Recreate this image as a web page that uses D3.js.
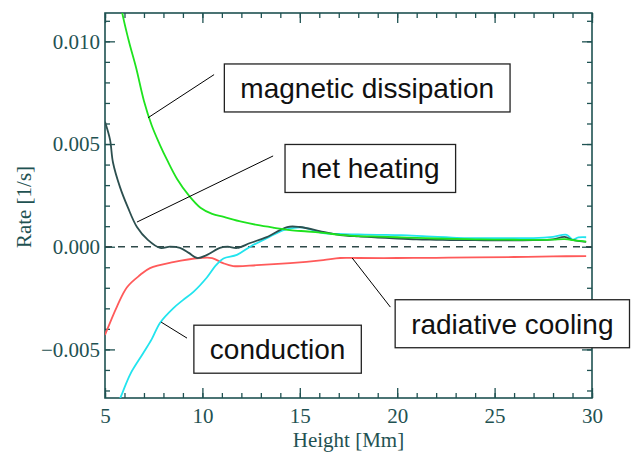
<!DOCTYPE html>
<html>
<head>
<meta charset="utf-8">
<script src="https://cdn.jsdelivr.net/npm/d3@7"></script>
<style>
	body { margin: 0; background: #fff; }
	svg { display: block; }
</style>
</head>
<body>
<div id="chart"></div>
<script>
// Values (height in Mm, rate in 1/s)
var magHeight = [5.0, 5.4, 5.8, 6.2, 6.6, 7.0, 7.4, 7.8, 8.2, 8.7, 9.3, 9.9, 10.5, 11.1, 12.0, 12.8, 13.7, 14.5, 15.4, 16.2, 17.1, 18, 19, 20, 21, 22, 23, 24, 25, 26, 27, 28, 28.6, 29.2, 29.7];
var magRate = [0.018, 0.0148, 0.0118, 0.0101, 0.0087, 0.0071, 0.0059, 0.0050, 0.0042, 0.0033, 0.0025, 0.0019, 0.0016, 0.00145, 0.00122, 0.00106, 0.00092, 0.00081, 0.00074, 0.00067, 0.00058, 0.00052, 0.00049, 0.00046, 0.00043, 0.0004, 0.00038, 0.00036, 0.00035, 0.00034, 0.00033, 0.00035, 0.00037, 0.0003, 0.00025];

var netHeight = [5.0, 5.26, 5.41, 5.77, 6.18, 6.64, 7.2, 7.83, 8.34, 8.85, 9.3, 9.73, 10.24, 10.9, 11.3, 11.78, 12.45, 13.3, 14.35, 15.0, 16.2, 17.07, 18, 19, 20, 21, 22, 23, 24, 25, 26, 27, 28, 28.6, 29.0, 29.7];
var netRate = [0.00608, 0.0052, 0.0041, 0.0029, 0.0019, 0.00096, 0.00033, -0.00006, 0.0, -0.00006, -0.0003, -0.00055, -0.0004, -0.00006, 0.0, -0.00006, 0.00018, 0.00047, 0.00096, 0.00096, 0.00072, 0.00057, 0.0005, 0.00045, 0.0004, 0.00036, 0.00034, 0.00032, 0.00032, 0.00031, 0.00031, 0.00032, 0.00036, 0.00048, 0.00033, 0.00024];

var radHeight = [5.0, 5.62, 6.13, 6.8, 7.31, 8.5, 9.88, 10.5, 11.06, 11.58, 12.8, 14.5, 16.2, 17.07, 18, 20, 22, 24, 26, 28, 29.7];
var radRate = [-0.0043, -0.0029, -0.00197, -0.00138, -0.00104, -0.00075, -0.00055, -0.00055, -0.0008, -0.00094, -0.0009, -0.0008, -0.00065, -0.00055, -0.00055, -0.00055, -0.00054, -0.00052, -0.0005, -0.00047, -0.00046];

var condHeight = [5.6, 5.9, 6.3, 6.95, 7.4, 7.83, 8.5, 9.0, 9.54, 10.23, 10.7, 11.08, 11.77, 12.45, 13.3, 14.16, 14.7, 15.2, 15.7, 16.2, 17, 18, 19, 20.2, 21.5, 22.5, 23.6, 25, 26, 27, 28, 28.7, 29.0, 29.3, 29.7];
var condRate = [-0.0078, -0.0071, -0.0062, -0.0052, -0.0045, -0.0037, -0.0030, -0.0026, -0.0022, -0.0015, -0.0009, -0.00057, -0.0004, 0.0, 0.00041, 0.00081, 0.00092, 0.00093, 0.0008, 0.00066, 0.00062, 0.0006, 0.00058, 0.00056, 0.0005, 0.00046, 0.00042, 0.00042, 0.00042, 0.00042, 0.00048, 0.00058, 0.00035, 0.00045, 0.00046];

var xTicks = [5, 10, 15, 20, 25, 30];
var yTicks = [-0.005, 0.000, 0.005, 0.010];

// callout boxes: label, box centre and leader line, all in data units
var noteLabels = ["magnetic dissipation", "net heating", "conduction", "radiative cooling"];
var noteCenters = [[18.46, 0.00773], [18.62, 0.00381], [13.86, -0.00499], [25.91, -0.00375]];
var noteLines = [
	[[7.21, 0.00628], [10.60, 0.00838]],
	[[6.64, 0.0012], [13.63, 0.00442]],
	[[7.88, -0.00367], [9.21, -0.00445]],
	[[17.69, -0.00055], [19.65, -0.00294]]
];

var W = 634, H = 453;
var margin = { left: 105, top: 13, right: 42, bottom: 55 };
var iw = W - margin.left - margin.right, ih = H - margin.top - margin.bottom;
var axisColor = "#1f5252";
var serif = "'Liberation Serif', 'Times New Roman', serif";

var svg = d3.select("#chart").append("svg")
	.attr("width", W)
	.attr("height", H);

var x = d3.scaleLinear().domain([5, 30]).range([0, iw]);
var y = d3.scaleLinear().domain([-0.007366, 0.01138]).range([ih, 0]);

var g = svg.append("g").attr("transform", "translate(" + margin.left + "," + margin.top + ")");

g.append("clipPath").attr("id", "plotclip")
	.append("rect").attr("width", iw).attr("height", ih);

// minor ticks on all sides
var xMinor = d3.range(5, 31, 1);
var yMinor = d3.range(-7, 12, 1).map(function(d) { return d / 1000; });

function styleAxis(sel) {
	sel.select(".domain").remove();
	sel.selectAll("line").attr("stroke", axisColor).attr("stroke-width", 1.3);
	sel.selectAll("text")
		.attr("fill", axisColor)
		.style("font-family", serif)
		.style("font-size", "21px");
}

g.append("g").attr("transform", "translate(0," + ih + ")")
	.call(d3.axisBottom(x).tickValues(xMinor).tickSize(-5).tickFormat(""))
	.call(styleAxis);
g.append("g")
	.call(d3.axisTop(x).tickValues(xMinor).tickSize(-5).tickFormat(""))
	.call(styleAxis);
g.append("g")
	.call(d3.axisLeft(y).tickValues(yMinor).tickSize(-5).tickFormat(""))
	.call(styleAxis);
g.append("g").attr("transform", "translate(" + iw + ",0)")
	.call(d3.axisRight(y).tickValues(yMinor).tickSize(-5).tickFormat(""))
	.call(styleAxis);

// major ticks + labels
g.append("g").attr("transform", "translate(0," + ih + ")")
	.call(d3.axisBottom(x).tickValues(xTicks).tickSize(-10).tickPadding(10).tickFormat(d3.format("d")))
	.call(styleAxis);
g.append("g")
	.call(d3.axisTop(x).tickValues(xTicks).tickSize(-10).tickFormat(""))
	.call(styleAxis);
g.append("g")
	.call(d3.axisLeft(y).tickValues(yTicks).tickSize(-10).tickPadding(5).tickFormat(d3.format(".3f")))
	.call(styleAxis);
g.append("g").attr("transform", "translate(" + iw + ",0)")
	.call(d3.axisRight(y).tickValues(yTicks).tickSize(-10).tickFormat(""))
	.call(styleAxis);

// frame
g.append("rect")
	.attr("width", iw).attr("height", ih)
	.attr("fill", "none")
	.attr("stroke", axisColor)
	.attr("stroke-width", 1.6);

// zero line
g.append("line")
	.attr("x1", 0).attr("x2", iw)
	.attr("y1", y(0)).attr("y2", y(0))
	.attr("stroke", "#2f4a4a")
	.attr("stroke-width", 1.4)
	.attr("stroke-dasharray", "7,6");

var line = d3.line()
	.x(function(d) { return x(d[0]); })
	.y(function(d) { return y(d[1]); })
	.curve(d3.curveCatmullRom);

var series = [
	{ h: radHeight, r: radRate, color: "#ff5a5a" },
	{ h: condHeight, r: condRate, color: "#22e4ee" },
	{ h: netHeight, r: netRate, color: "#2c4f4f" },
	{ h: magHeight, r: magRate, color: "#1ee31e" }
];

var curves = g.append("g").attr("clip-path", "url(#plotclip)");
series.forEach(function(s) {
	curves.append("path")
		.datum(d3.zip(s.h, s.r))
		.attr("d", line)
		.attr("fill", "none")
		.attr("stroke", s.color)
		.attr("stroke-width", 1.8);
});

// axis titles
svg.append("text")
	.attr("x", margin.left + iw / 2)
	.attr("y", 447)
	.attr("text-anchor", "middle")
	.attr("fill", axisColor)
	.style("font-family", serif)
	.style("font-size", "21px")
	.text("Height [Mm]");

svg.append("text")
	.attr("transform", "translate(31,207) rotate(-90)")
	.attr("text-anchor", "middle")
	.attr("fill", axisColor)
	.style("font-family", serif)
	.style("font-size", "21px")
	.text("Rate [1/s]");

// callouts
var notes = g.append("g");
noteLabels.forEach(function(label, i) {
	notes.append("line")
		.attr("x1", x(noteLines[i][0][0])).attr("y1", y(noteLines[i][0][1]))
		.attr("x2", x(noteLines[i][1][0])).attr("y2", y(noteLines[i][1][1]))
		.attr("stroke", "#000")
		.attr("stroke-width", 1);

	var cx = x(noteCenters[i][0]), cy = y(noteCenters[i][1]);
	var box = notes.append("rect").attr("fill", "#fff").attr("stroke", "#222").attr("stroke-width", 1.3);
	var t = notes.append("text")
		.attr("x", cx).attr("y", cy)
		.attr("dy", "0.35em")
		.attr("text-anchor", "middle")
		.attr("fill", "#111")
		.style("font-family", "'Liberation Sans', Arial, sans-serif")
		.style("font-size", "28px")
		.text(label);
	var bw = t.node().getComputedTextLength() + 32;
	var bh = 48;
	box.attr("x", cx - bw / 2).attr("y", cy - bh / 2).attr("width", bw).attr("height", bh);
});
</script>
</body>
</html>
